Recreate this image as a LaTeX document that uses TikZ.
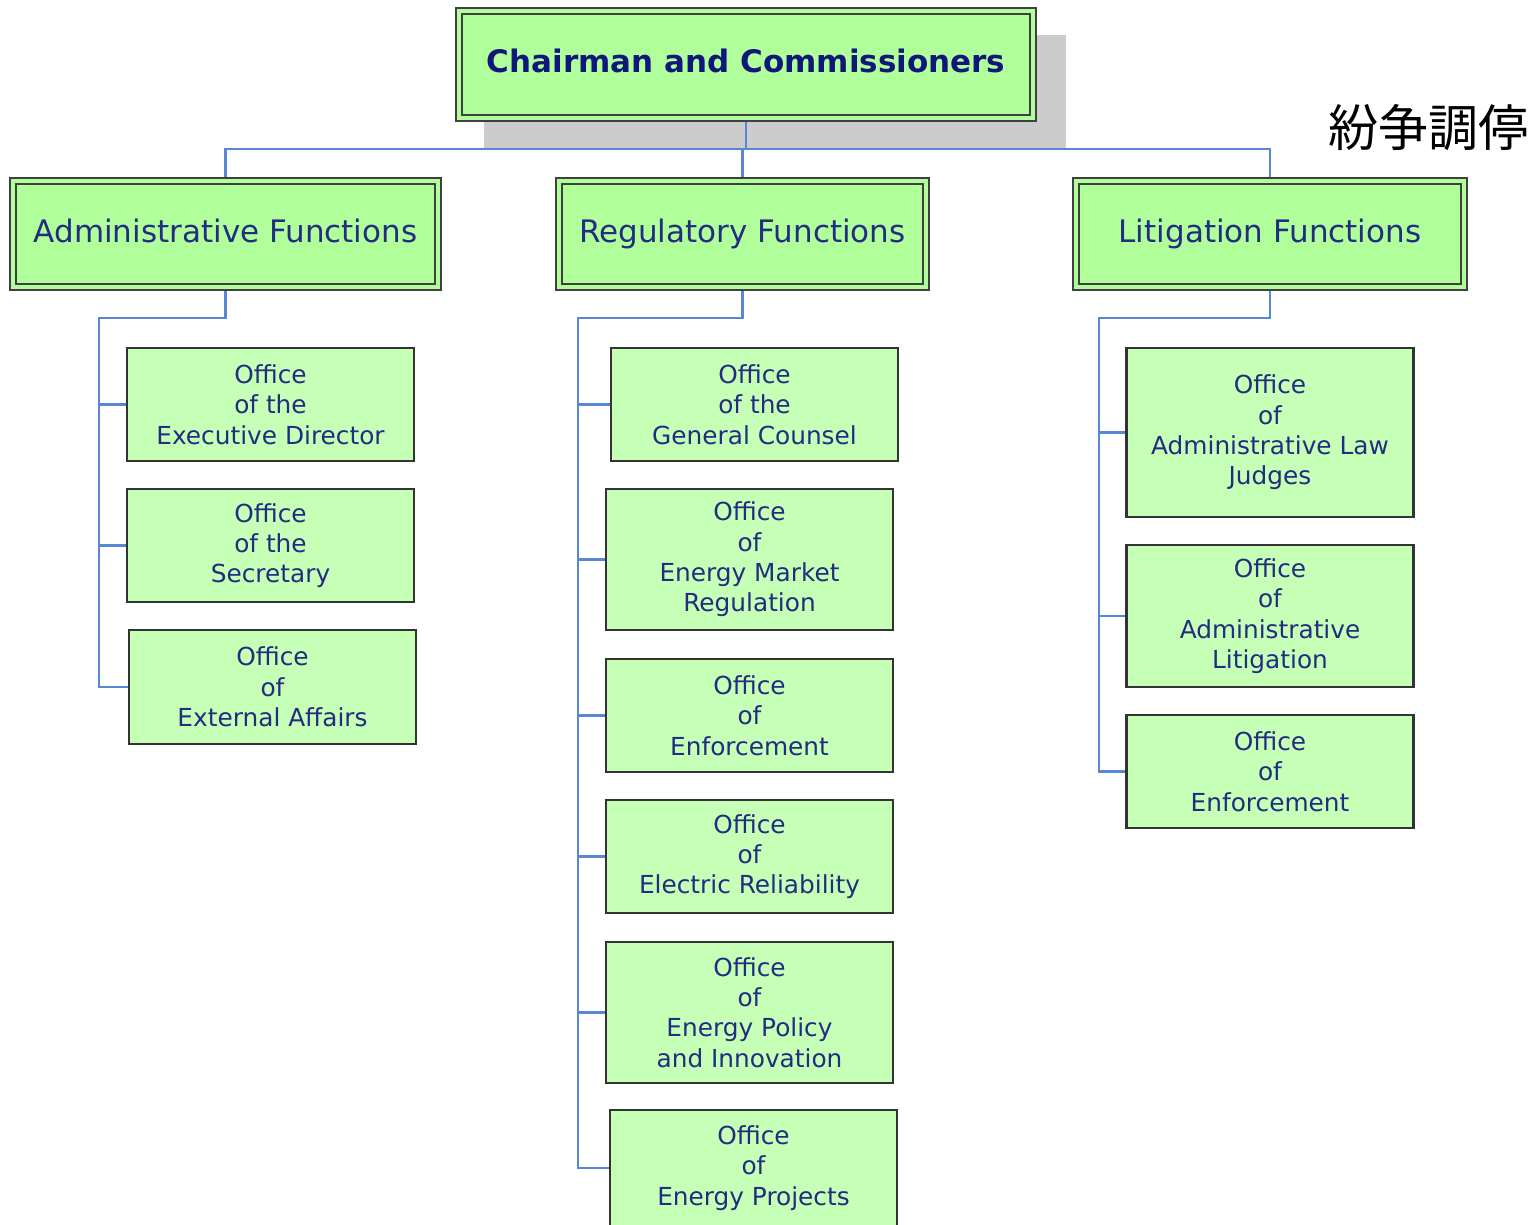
\documentclass[tikz,border=0pt]{standalone}
\usepackage{fontspec}
\setmainfont{DejaVu Sans}
\newfontfamily\cjkfont{Noto Sans CJK JP}
\pgfdeclarelayer{bg}
\pgfsetlayers{bg,main}
\definecolor{hdrfill}{RGB}{176,255,154}
\definecolor{leaffill}{RGB}{198,255,182}
\definecolor{navy}{RGB}{34,44,128}
\definecolor{titlenavy}{RGB}{16,22,122}
\definecolor{wire}{RGB}{88,136,212}
\definecolor{shadowgray}{RGB}{204,204,204}
\tikzset{
  hdrbox/.style={rectangle, draw=black!75, line width=2pt, double=hdrfill,
    double distance=4pt, fill=hdrfill, inner sep=0pt, outer sep=0pt,
    text=navy, font=\fontsize{31}{37}\selectfont, minimum height=106pt,
    text height=23pt, text depth=6.5pt},
  titlebox/.style={hdrbox, text=titlenavy, font=\bfseries\fontsize{31}{37}\selectfont,
    minimum width=574pt, minimum height=107pt},
  leafbox/.style={rectangle, draw=black!80, line width=2.5pt, fill=leaffill,
    inner sep=0pt, outer sep=0pt, align=center, text=navy,
    font=\fontsize{24.8}{30.3}\selectfont, minimum width=287pt},
  wireline/.style={draw=wire, line width=2.8pt}
}
\begin{document}
\begin{tikzpicture}[x=1pt, y=-1pt]
\useasboundingbox (0,0) rectangle (1534,1224);
\clip (0,0) rectangle (1534,1224);

% top of the hierarchy
\node[titlebox] (top) at (746,64.5) {Chairman and Commissioners};

% the three function groups
\node[hdrbox, minimum width=425pt] (adm) at (225.5,234) {Administrative Functions};
\node[hdrbox, minimum width=367pt] (reg) at (742.5,234) {Regulatory Functions};
\node[hdrbox, minimum width=388pt] (lit) at (1270,234) {Litigation Functions};

% administrative offices
\node[leafbox, minimum height=113pt] (a1) at (270.5,404.5) {Office\\of the\\Executive Director};
\node[leafbox, minimum height=113pt] (a2) at (270.5,545.5) {Office\\of the\\Secretary};
\node[leafbox, minimum height=114pt] (a3) at (272.5,687) {Office\\of\\External Affairs};

% regulatory offices
\node[leafbox, minimum height=113pt] (r1) at (754.5,404.5) {Office\\of the\\General Counsel};
\node[leafbox, minimum height=141pt] (r2) at (749.5,559.5) {Office\\of\\Energy Market\\Regulation};
\node[leafbox, minimum height=113pt] (r3) at (749.5,715.5) {Office\\of\\Enforcement};
\node[leafbox, minimum height=113pt] (r4) at (749.5,856.5) {Office\\of\\Electric Reliability};
\node[leafbox, minimum height=141pt] (r5) at (749.5,1012.5) {Office\\of\\Energy Policy\\and Innovation};
\node[leafbox, minimum height=116pt] (r6) at (753.5,1168) {Office\\of\\Energy Projects};

% litigation offices
\node[leafbox, minimum height=169pt] (l1) at (1270,432.5) {Office\\of\\Administrative Law\\Judges};
\node[leafbox, minimum height=142pt] (l2) at (1270,616) {Office\\of\\Administrative\\Litigation};
\node[leafbox, minimum height=113pt] (l3) at (1270,771.5) {Office\\of\\Enforcement};

% caption in the upper right
\node[font=\cjkfont\fontsize{50}{56}\selectfont, inner sep=0pt] (cap) at (1428,128) {紛争調停};

% rails and bus lines
\coordinate (bus) at (0,149);
\coordinate (admrail) at (99,318);
\coordinate (regrail) at (578,318);
\coordinate (litrail) at (1099,318);

\begin{pgfonlayer}{bg}
  \fill[shadowgray] (484,35) rectangle (1066,149);
  \draw[wireline] (top.south) -- (top.south |- bus);
  \draw[wireline] (adm.north) |- (lit.north |- bus) -- (lit.north);
  \draw[wireline] (reg.north) -- (reg.north |- bus);

  \draw[wireline] (adm.south) |- (admrail) -- (admrail |- a3.west) -- (a3.west);
  \draw[wireline] (admrail |- a1.west) -- (a1.west);
  \draw[wireline] (admrail |- a2.west) -- (a2.west);

  \draw[wireline] (reg.south) |- (regrail) -- (regrail |- r6.west) -- (r6.west);
  \foreach \n in {r1,r2,r3,r4,r5}
    \draw[wireline] (regrail |- \n.west) -- (\n.west);

  \draw[wireline] (lit.south) |- (litrail) -- (litrail |- l3.west) -- (l3.west);
  \draw[wireline] (litrail |- l1.west) -- (l1.west);
  \draw[wireline] (litrail |- l2.west) -- (l2.west);
\end{pgfonlayer}
\end{tikzpicture}
\end{document}
